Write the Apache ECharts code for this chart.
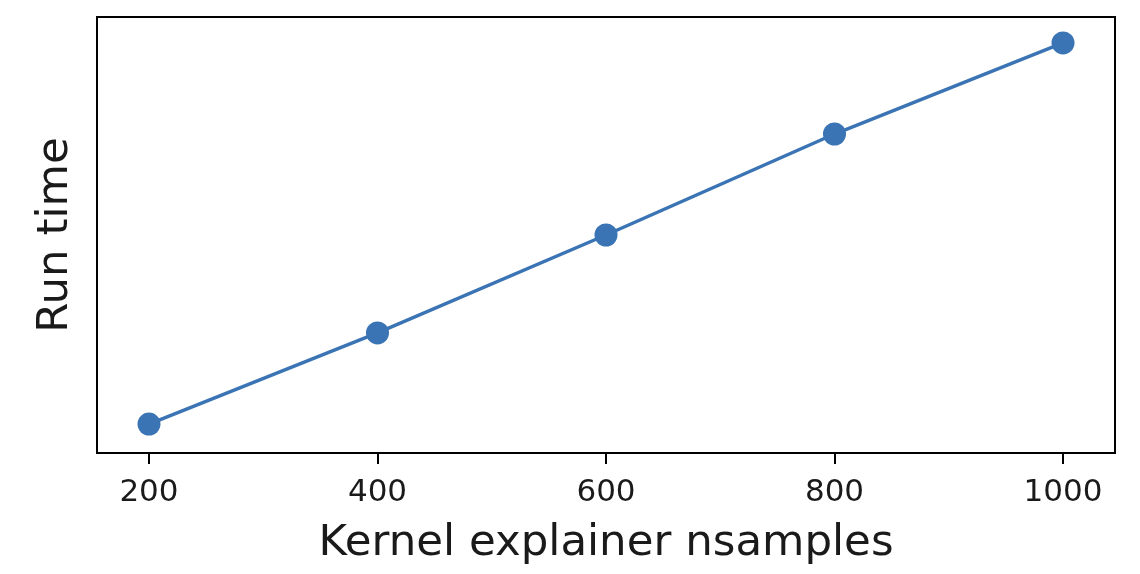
<!DOCTYPE html>
<html>
<head>
<meta charset="utf-8">
<script src="https://cdn.jsdelivr.net/npm/echarts@6/dist/echarts.min.js"></script>
<style>
html,body{margin:0;padding:0;background:#fff;}
#chart{width:1140px;height:574px;}
</style>
</head>
<body>
<div id="chart"></div>
<script>
const nsamples = [200, 400, 600, 800, 1000];
const runTime = [10, 33.9, 59.6, 86.1, 110];
const xTicks = [200, 400, 600, 800, 1000];
const xLabel = 'Kernel explainer nsamples';
const yLabel = 'Run time';

const chart = echarts.init(document.getElementById('chart'));
const font = 'DejaVu Sans';
chart.setOption({
  animation: false,
  backgroundColor: '#fff',
  grid: {
    left: 97, top: 17, right: 25, bottom: 121,
    show: true, borderColor: '#000', borderWidth: 2, backgroundColor: 'transparent'
  },
  xAxis: {
    type: 'value',
    min: 154.5, max: 1045.5,
    interval: 200,
    axisLine: {show: false},
    axisTick: {show: true, length: 11, lineStyle: {color: '#000', width: 2}, customValues: xTicks},
    splitLine: {show: false},
    axisLabel: {
      customValues: xTicks,
      formatter: v => String(v),
      fontFamily: font, fontSize: 31, color: '#1a1a1a', margin: 24
    },
    name: xLabel,
    nameLocation: 'middle',
    nameGap: 69,
    nameTextStyle: {fontFamily: font, fontSize: 43.5, color: '#1a1a1a'}
  },
  yAxis: {
    type: 'value',
    min: 2.4, max: 116.8,
    axisLine: {show: false},
    axisTick: {show: false},
    axisLabel: {show: false},
    splitLine: {show: false},
    name: yLabel,
    nameLocation: 'middle',
    nameGap: 19,
    nameRotate: 90,
    nameTextStyle: {fontFamily: font, fontSize: 43.5, color: '#1a1a1a'}
  },
  series: [{
    type: 'line',
    data: nsamples.map((x, i) => [x, runTime[i]]),
    symbol: 'circle',
    symbolSize: 23,
    lineStyle: {color: '#3a74b4', width: 3.5},
    itemStyle: {color: '#3a74b4'},
    z: 3
  }]
});
</script>
</body>
</html>
